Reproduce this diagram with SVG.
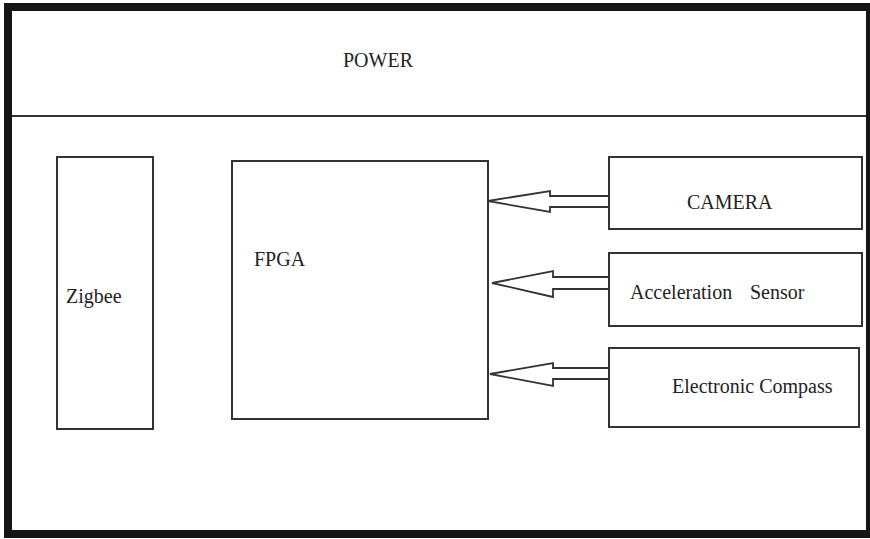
<svg xmlns="http://www.w3.org/2000/svg" width="870" height="539" viewBox="0 0 870 539">
<style>
.box{fill:#fff;stroke:#333;stroke-width:2}
.t{font-family:"Liberation Serif","Times New Roman",serif;fill:#222;font-size:20px}
.arr{fill:none;stroke:#333;stroke-width:1.8;stroke-linejoin:miter}
</style>
<rect x="0" y="0" width="870" height="539" fill="#fff"/>
<g id="frame">
<rect x="8" y="7" width="862" height="527" fill="#fff" stroke="#151515" stroke-width="8"/>
<line x1="12" y1="116" x2="866" y2="116" stroke="#333" stroke-width="2"/>
</g>
<g id="power"><text class="t" x="343" y="67">POWER</text></g>
<g id="zigbee"><rect class="box" x="57" y="157" width="96" height="272"/><text class="t" x="66" y="303" font-size="19">Zigbee</text></g>
<g id="fpga"><rect class="box" x="232" y="161" width="256" height="258"/><text class="t" x="254" y="266" font-size="19">FPGA</text></g>
<g id="camera"><rect class="box" x="609" y="157" width="253" height="72"/><text class="t" x="687" y="209">CAMERA</text></g>
<g id="accel"><rect class="box" x="609" y="253" width="253" height="73"/><text class="t" x="630" y="299" font-size="19">Acceleration</text><text class="t" x="750" y="299" font-size="19">Sensor</text></g>
<g id="compass"><rect class="box" x="609" y="348" width="250" height="79"/><text class="t" x="672" y="393">Electronic Compass</text></g>
<g id="connectors">
<polyline class="arr" points="609,196 550,196 550,191 488,201 550,212 550,207 609,207"/>
<polyline class="arr" points="609,277 553,277 553,271 492,283 553,297 553,289 609,289"/>
<polyline class="arr" points="609,368 553,368 553,363 490,374 553,386 553,379 609,379"/>
</g>
</svg>
